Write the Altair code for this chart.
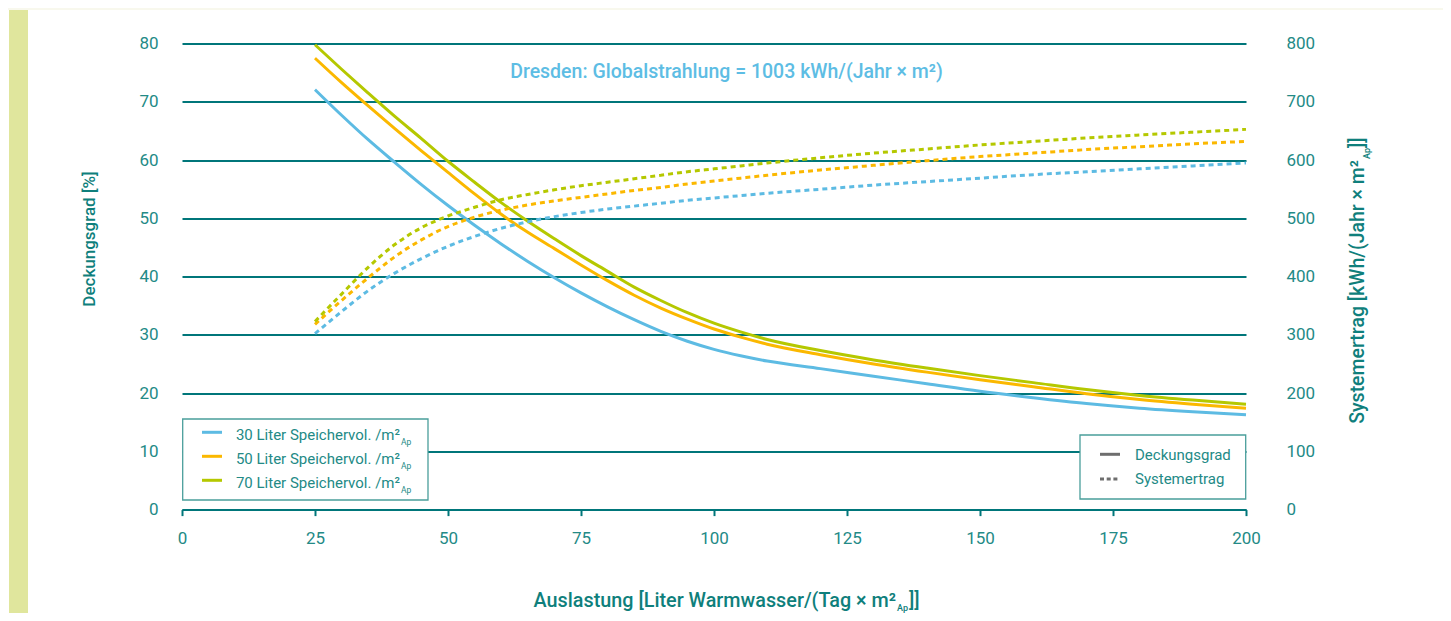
import altair as alt
import pandas as pd

# ---------------- data ----------------
x_vals = [25, 30, 35, 40, 45, 50, 55, 60, 65, 70, 75, 80, 85, 90, 95, 100, 105, 110,
          120, 130, 140, 150, 160, 170, 180, 190, 200]

# Deckungsgrad [%]
deck_30 = [72.1, 67.7, 63.5, 59.6, 55.8, 52.2, 48.8, 45.6, 42.6, 39.8, 37.2, 34.8,
           32.6, 30.6, 28.9, 27.5, 26.4, 25.5,
           24.2, 22.9, 21.6, 20.3, 19.2, 18.2, 17.4, 16.8, 16.3]
deck_50 = [77.5, 73.3, 69.3, 65.4, 61.6, 57.9, 54.2, 50.7, 47.6, 44.8, 42.0, 39.3,
           36.8, 34.6, 32.7, 31.0, 29.6, 28.4,
           26.6, 25.0, 23.6, 22.3, 21.1, 19.9, 18.9, 18.1, 17.4]
deck_70 = [79.8, 75.6, 71.5, 67.5, 63.7, 59.8, 56.2, 52.7, 49.5, 46.5, 43.6, 40.9,
           38.2, 35.9, 33.8, 32.0, 30.5, 29.2,
           27.3, 25.7, 24.3, 23.0, 21.8, 20.6, 19.6, 18.8, 18.1]

# Systemertrag [kWh/(Jahr x m2)]
ertrag_30 = [302, 340, 376, 406, 431, 452, 469, 483, 494, 503, 510, 516,
             521, 526, 531, 535, 539, 543,
             550, 557, 563, 569, 575, 580, 585, 590, 595]
ertrag_50 = [318, 359, 398, 434, 463, 486, 502, 514, 523, 530, 536, 542,
             548, 553, 559, 564, 569, 574,
             583, 591, 599, 606, 612, 618, 623, 628, 632]
ertrag_70 = [323, 370, 416, 455, 484, 504, 519, 532, 541, 549, 556, 562,
             568, 574, 580, 585, 590, 595,
             604, 612, 619, 626, 632, 638, 643, 648, 653]

series = ["30 Liter", "50 Liter", "70 Liter"]
series_colors = ["#5dbbe3", "#fbb800", "#b5c800"]
legend_labels = ["30 Liter Speichervol. /m²", "50 Liter Speichervol. /m²",
                 "70 Liter Speichervol. /m²"]
kind_labels = ["Deckungsgrad", "Systemertrag"]

x_ticks = [0, 25, 50, 75, 100, 125, 150, 175, 200]
left_ticks = [0, 10, 20, 30, 40, 50, 60, 70, 80]
right_ticks = [0, 100, 200, 300, 400, 500, 600, 700, 800]

title_text = "Dresden: Globalstrahlung = 1003 kWh/(Jahr × m²)"
x_title_main = "Auslastung [Liter Warmwasser/(Tag × m²"
y_left_title = "Deckungsgrad [%]"
y_right_title_main = "Systemertrag [kWh/(Jahr × m²"
sub_text = "Ap"
close_text = "]]"

# ---------------- tables ----------------
rows_d, rows_e = [], []
for name, d, e in zip(series, [deck_30, deck_50, deck_70], [ertrag_30, ertrag_50, ertrag_70]):
    for xv, dv, ev in zip(x_vals, d, e):
        rows_d.append({"x": xv, "v": dv, "vol": name})
        rows_e.append({"x": xv, "v": ev, "vol": name})
df_d = pd.DataFrame(rows_d)
df_e = pd.DataFrame(rows_e)
one = pd.DataFrame({"a": [0]})

# ---------------- style ----------------
W, H = 1064, 466
PAD_L, PAD_T = 174, 35.6
TOTAL_W, TOTAL_H = 1435, 605
FONT = "Roboto"
TEAL_GRID = "#00767a"
TEAL_TXT = "#238a86"
TEAL_TITLE = "#0f7f7c"
LEG_BORDER = "#4a9e9b"
GRAY = "#6e6e6e"

color_scale = alt.Scale(domain=series, range=series_colors)

x_enc = alt.X("x:Q", scale=alt.Scale(domain=[0, 200], nice=False, zero=True),
              axis=alt.Axis(values=x_ticks, grid=False, domain=True, domainColor=TEAL_GRID,
                            domainWidth=2, ticks=True, tickColor=TEAL_GRID, tickWidth=2,
                            tickSize=6, labelPadding=15, labelFontSize=17, labelFont=FONT,
                            labelColor=TEAL_TXT, labelFlush=False, title=None))

solid = alt.Chart(df_d).mark_line(strokeWidth=3, interpolate="monotone").encode(
    x=x_enc,
    y=alt.Y("v:Q", scale=alt.Scale(domain=[0, 80], nice=False),
            axis=alt.Axis(values=left_ticks, grid=True, gridColor=TEAL_GRID, gridWidth=2,
                          domain=False, ticks=False, labelPadding=24, labelFontSize=17,
                          labelFont=FONT, labelColor=TEAL_TXT, title=None)),
    color=alt.Color("vol:N", scale=color_scale, legend=None),
)

dotted = alt.Chart(df_e).mark_line(strokeWidth=3, interpolate="monotone",
                                   strokeDash=[5, 4]).encode(
    x=x_enc,
    y=alt.Y("v:Q", scale=alt.Scale(domain=[0, 800], nice=False),
            axis=alt.Axis(orient="right", values=right_ticks, grid=False, domain=False,
                          ticks=False, labelPadding=40, labelFontSize=17, labelFont=FONT,
                          labelColor=TEAL_TXT, title=None)),
    color=alt.Color("vol:N", scale=color_scale, legend=None),
)


def txt(text, x, y, size, color=TEAL_TXT, align="left", baseline="alphabetic",
        weight="normal", angle=0):
    kw = dict(text=text, align=align, baseline=baseline, fontSize=size, font=FONT,
              color=color, fontWeight=weight)
    if angle:
        kw["angle"] = angle
    return alt.Chart(one).mark_text(**kw).encode(x=alt.value(x), y=alt.value(y))


def box(x1, x2, y1, y2, fill, stroke=None):
    kw = dict(fill=fill)
    if stroke:
        kw.update(stroke=stroke, strokeWidth=1.3)
    return alt.Chart(one).mark_rect(**kw).encode(
        x=alt.value(x1), x2=alt.value(x2), y=alt.value(y1), y2=alt.value(y2))


def rule(x1, x2, y, color, dash=None):
    kw = dict(color=color, strokeWidth=3)
    if dash:
        kw["strokeDash"] = dash
    return alt.Chart(one).mark_rule(**kw).encode(
        x=alt.value(x1), x2=alt.value(x2), y=alt.value(y))


layers = []
# page decoration: cream top edge + green stripe on the left
layers.append(box(-PAD_L, TOTAL_W - PAD_L, -PAD_T, -33.6, "#f8f8ed"))
layers.append(box(-173, -154, -33.6, TOTAL_H - PAD_T, "#e0e69d"))
layers.append(solid)
layers.append(dotted)

# legend 1 (volumes)
layers.append(box(0.7, 246, 375.4, 456.4, "white", LEG_BORDER))
for i, (lab, col) in enumerate(zip(legend_labels, series_colors)):
    yc = 388.7 + 24 * i
    layers.append(rule(20, 40, yc, col))
    layers.append(txt(lab, 218, yc + 7.7, 15, align="right"))
    layers.append(txt(sub_text, 219, yc + 12.7, 8.5))

# legend 2 (kinds)
layers.append(box(898, 1063.7, 391.4, 455.4, "white", LEG_BORDER))
for i, lab in enumerate(kind_labels):
    yc = 410.7 + 24.7 * i
    layers.append(rule(918, 938, yc, GRAY, None if i == 0 else [4, 2.7]))
    layers.append(txt(lab, 953, yc + 5.2, 15))

# title inside plot
layers.append(txt(title_text, 544.5, 34.7, 19.5, color="#5dbde4", align="center",
                  weight=500))
# x axis title
layers.append(txt(x_title_main, 714, 563.4, 19.8, color=TEAL_TITLE, align="right", weight=500))
layers.append(txt(sub_text, 715, 567.3, 9, color=TEAL_TITLE, weight=500))
layers.append(txt(close_text, 727, 563.4, 19.8, color=TEAL_TITLE, weight=500))
# left y title
layers.append(txt(y_left_title, -87, 195.4, 17, color=TEAL_TITLE, align="center",
                  weight=500, angle=270))
# right y title
layers.append(txt(y_right_title_main, 1181.5, 116.4, 19.5, color=TEAL_TITLE, align="right",
                  weight=500, angle=270))
layers.append(txt(sub_text, 1188, 115.4, 9, color=TEAL_TITLE, weight=500, angle=270))
layers.append(txt(close_text, 1181.5, 104.4, 19.5, color=TEAL_TITLE, weight=500, angle=270))

chart = alt.layer(*layers).resolve_scale(y="independent").properties(
    width=W, height=H,
    autosize=alt.AutoSizeParams(type="none"),
    padding={"left": PAD_L, "top": PAD_T, "right": TOTAL_W - PAD_L - W,
             "bottom": TOTAL_H - PAD_T - H},
    background="white",
).configure_view(stroke=None)

chart.save("out.html", embed_options={"renderer": "svg", "actions": False})
